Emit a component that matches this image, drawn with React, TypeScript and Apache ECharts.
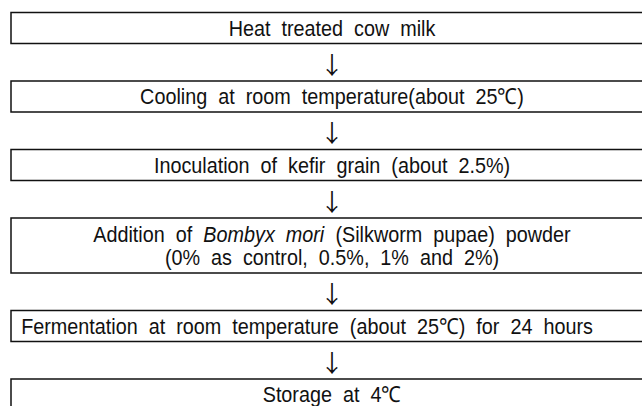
import React, { useEffect, useRef } from "react";
import * as echarts from "echarts";

// Flowchart steps: each step is a list of lines; each line a list of [text, italic] segments
const stepLines: Array<Array<Array<[string, boolean]>>> = [
  [[["Heat  treated  cow  milk", false]]],
  [[["Cooling  at  room  temperature(about  25℃)", false]]],
  [[["Inoculation  of  kefir  grain  (about  2.5%)", false]]],
  [
    [
      ["Addition  of  ", false],
      ["Bombyx  mori", true],
      ["  (Silkworm  pupae)  powder", false],
    ],
    [["(0%  as  control,  0.5%,  1%  and  2%)", false]],
  ],
  [[["Fermentation  at  room  temperature  (about  25℃)  for  24  hours", false]]],
  [[["Storage  at  4℃", false]]],
];
const arrowSymbol = "↓";

// layout only: horizontal shift of each step's text from the common centre
const stepShiftX = [0, 0, 0, 0, -25, 0];

const W = 642;
const H = 406;

export default function App() {
  const ref = useRef<HTMLDivElement>(null);
  useEffect(() => {
    document.body.style.margin = "0";
    if (!ref.current) return;
    const chart = echarts.init(ref.current, undefined, { renderer: "svg", width: W, height: H });

    const left = 11;
    const boxW = 643;
    const cx = 332;
    const top0 = 12.5;
    const singleH = 31;
    const lineStep = 23;
    const gap = 37.5;
    const font = "'Liberation Sans', Arial, sans-serif";
    const fontSize = 22;
    const sx = 0.9;

    const elements: any[] = [];
    let top = top0;
    stepLines.forEach((lines, i) => {
      const h = singleH + (lines.length - 1) * (lineStep + 1);
      elements.push({
        type: "rect",
        shape: { x: left, y: top, width: boxW, height: h },
        style: { fill: "#fff", stroke: "#111", lineWidth: 1.5 },
      });
      const mid = top + h / 2;
      lines.forEach((segs, j) => {
        const y = mid + (j - (lines.length - 1) / 2) * lineStep;
        const rich: any = {
          n: { fontFamily: font, fontSize, fill: "#111" },
          it: { fontFamily: font, fontSize, fill: "#111", fontStyle: "italic" },
        };
        const txt = segs.map(([t, it]) => `{${it ? "it" : "n"}|${t}}`).join("");
        elements.push({
          type: "text",
          x: cx + stepShiftX[i],
          y,
          scaleX: sx,
          style: {
            text: txt,
            rich,
            align: "center",
            verticalAlign: "middle",
            fontFamily: font,
            fontSize,
            fill: "#111",
          },
        });
      });
      const bottom = top + h;
      if (i < stepLines.length - 1) {
        elements.push({
          type: "text",
          x: cx,
          y: bottom + gap / 2 + 1,
          style: {
            text: arrowSymbol,
            align: "center",
            verticalAlign: "middle",
            fontFamily: "'Noto Sans CJK KR', sans-serif",
            fontSize: 24,
            fill: "#111",
          },
        });
      }
      top = bottom + gap;
    });

    chart.setOption({
      animation: false,
      backgroundColor: "#fff",
      graphic: { elements },
    });
    return () => chart.dispose();
  }, []);
  return <div ref={ref} style={{ width: W, height: H }} />;
}
